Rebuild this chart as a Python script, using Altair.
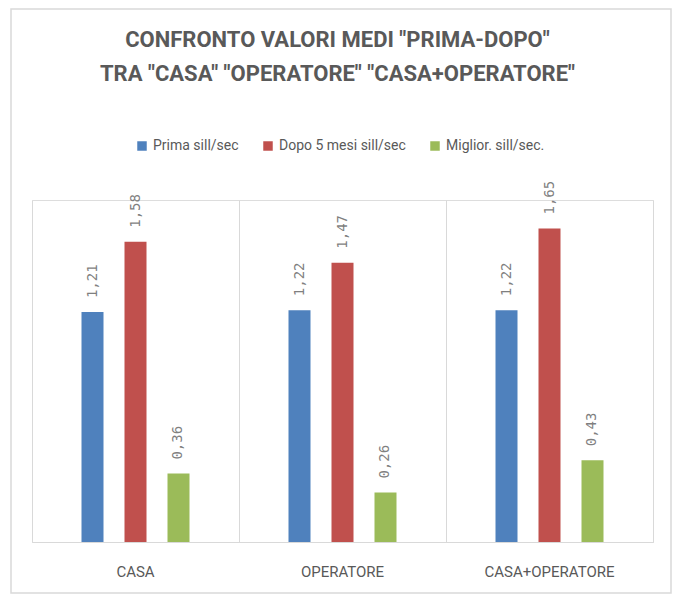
import altair as alt
import pandas as pd

categories = ["CASA", "OPERATORE", "CASA+OPERATORE"]
series = ["Prima sill/sec", "Dopo 5 mesi sill/sec", "Miglior. sill/sec."]
prima = [1.21, 1.22, 1.22]
dopo = [1.58, 1.47, 1.65]
miglior = [0.36, 0.26, 0.43]
colors = ["#4f81bd", "#c0504d", "#9bbb59"]

rows = []
for i, c in enumerate(categories):
    for s, vals in zip(series, [prima, dopo, miglior]):
        v = vals[i]
        rows.append({"cat": c, "serie": s, "val": v, "lab": f"{v:.2f}".replace(".", ",")})
df = pd.DataFrame(rows)

W, H = 621, 342
PL, PT = 32, 200
FONT = "Roboto"

x = alt.X("cat:N", sort=categories, title=None,
          scale=alt.Scale(paddingInner=0, paddingOuter=0),
          axis=alt.Axis(bandPosition=0, grid=True, gridColor="#d9d9d9", ticks=False,
                        domainColor="#d9d9d9", labelAngle=0, labelFont=FONT, labelFontSize=15,
                        labelColor="#595959", labelPadding=22))
xo = alt.XOffset("serie:N", sort=series,
                 scale=alt.Scale(paddingInner=0, paddingOuter=0.907))
y = alt.Y("val:Q", scale=alt.Scale(domain=[0, 1.8]), title=None,
          axis=alt.Axis(orient="right", labels=False, ticks=False, grid=False,
                        domainColor="#d9d9d9"))
color = alt.Color("serie:N", sort=series, title=None,
                  scale=alt.Scale(domain=series, range=colors),
                  legend=alt.Legend(orient="none", direction="horizontal",
                                    legendX=103, legendY=-61, symbolType="square",
                                    symbolSize=90, symbolStrokeWidth=0, labelFont=FONT,
                                    labelFontSize=14, labelColor="#595959",
                                    columnPadding=22, symbolOpacity=1))

base = alt.Chart(df)
bars = base.mark_bar(size=22).encode(x=x, xOffset=xo, y=y, color=color)
labels = base.mark_text(angle=270, align="left", baseline="middle", dx=14,
                        font="DejaVu Sans Mono", fontSize=14, color="#7f7f7f").encode(
    x=x, xOffset=xo, y=y, text="lab:N")
border = alt.Chart(pd.DataFrame({"k": [0]})).mark_rect(
    fill=None, stroke="#d9d9d9", strokeWidth=1.5).encode(
    x=alt.value(11 - PL), x2=alt.value(671 - PL),
    y=alt.value(9 - PT), y2=alt.value(593 - PT))

chart = alt.layer(border, bars, labels).properties(
    width=W, height=H,
    autosize=alt.AutoSizeParams(type="none"),
    padding={"left": PL, "top": PT, "right": 675 - PL - W, "bottom": 597 - PT - H},
    title=alt.Title(["CONFRONTO VALORI MEDI \"PRIMA-DOPO\"",
                     "TRA \"CASA\" \"OPERATORE\" \"CASA+OPERATORE\""],
                    font=FONT, fontSize=22, fontWeight="bold", color="#595959",
                    anchor="middle", frame="group", lineHeight=34, offset=-78, dx=-5),
).configure_view(stroke=None).configure(background="white")

chart.save("out.html", embed_options={"renderer": "svg", "actions": False})
